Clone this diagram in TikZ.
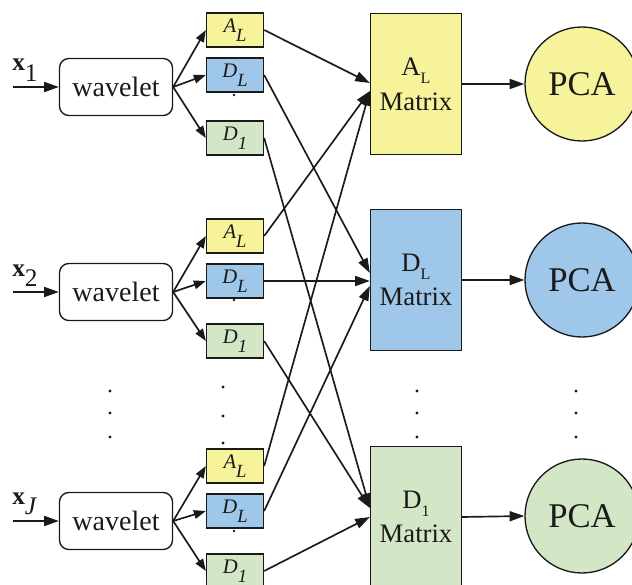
\documentclass[tikz,border=0pt]{standalone}
\usepackage{fontspec}
\setmainfont{Liberation Serif}
\usetikzlibrary{arrows.meta}

\definecolor{cyel}{HTML}{F7F39B}
\definecolor{cblu}{HTML}{9FC7E9}
\definecolor{cgrn}{HTML}{D3E6C6}
\definecolor{ink}{HTML}{1A1A1A}

% lowered subscript: #1 = scale, #2 = drop, #3 = text
\newcommand{\lowsub}[3]{\raisebox{-#2}{\scalebox{#1}{#3}}}

\tikzset{
  wbox/.style={draw=ink, line width=1pt, rounded corners=7pt, fill=white,
    minimum width=84.75pt, minimum height=42.75pt, inner sep=0pt,
    font=\fontsize{21}{21}\selectfont, text=ink},
  sbox/.style={draw=ink, line width=1pt, minimum width=42.75pt,
    minimum height=25.5pt, inner sep=0pt,
    font=\fontsize{15.5}{15.5}\selectfont\itshape, text=ink},
  mbox/.style={draw=ink, line width=1pt, minimum width=68.25pt,
    minimum height=105.75pt, inner sep=0pt, align=center,
    font=\fontsize{20}{26}\selectfont, text=ink},
  pca/.style={circle, draw=ink, line width=1pt, minimum size=85.5pt,
    inner sep=0pt, font=\fontsize{26}{26}\selectfont, text=ink},
  inlabel/.style={anchor=base west, inner sep=0pt, text=ink,
    font=\fontsize{19}{19}\selectfont},
  conn/.style={draw=ink, line width=1.25pt},
  fan/.style={conn, -{Triangle[length=9pt,width=6.5pt]}},
  arr/.style={conn, -{Triangle[length=11pt,width=7.5pt]}},
  dotmark/.style={fill=ink}
}

\begin{document}
\begin{tikzpicture}[x=0.75pt, y=-0.75pt]
  \useasboundingbox (0,0) rectangle (632,585);
  \clip (0,0) rectangle (632,585);

  % ---- signal x_1 ----
  \coordinate (i1) at (13,87);
  \node[inlabel] (l1) at (12,71) {\textbf{x}\lowsub{1}{0.4em}{1}};
  \node[wbox] (w1) at (116,87) {wavelet};
  \node[sbox, fill=cyel] (a1) at (235,30)  {A\lowsub{0.9}{0.42em}{L}};
  \node[sbox, fill=cblu] (d1) at (235,75)  {D\lowsub{0.9}{0.42em}{L}};
  \node[sbox, fill=cgrn] (e1) at (235,138) {D\lowsub{0.9}{0.42em}{1}};

  % ---- signal x_2 ----
  \coordinate (i2) at (13,292);
  \node[inlabel] (l2) at (12,276) {\textbf{x}\lowsub{1}{0.4em}{2}};
  \node[wbox] (w2) at (116,292) {wavelet};
  \node[sbox, fill=cyel] (a2) at (235,236) {A\lowsub{0.9}{0.42em}{L}};
  \node[sbox, fill=cblu] (d2) at (235,281) {D\lowsub{0.9}{0.42em}{L}};
  \node[sbox, fill=cgrn] (e2) at (235,341) {D\lowsub{0.9}{0.42em}{1}};

  % ---- signal x_J ----
  \coordinate (i3) at (13,521);
  \node[inlabel] (l3) at (12,504) {\textbf{x}\lowsub{1}{0.4em}{\itshape J}};
  \node[wbox] (w3) at (116,521) {wavelet};
  \node[sbox, fill=cyel] (a3) at (235,466) {A\lowsub{0.9}{0.42em}{L}};
  \node[sbox, fill=cblu] (d3) at (235,511) {D\lowsub{0.9}{0.42em}{L}};
  \node[sbox, fill=cgrn] (e3) at (235,571) {D\lowsub{0.9}{0.42em}{1}};

  % ---- coefficient matrices and PCA ----
  \node[mbox, fill=cyel] (mA) at (416,84)  {A\lowsub{0.6}{0.3em}{L}\\Matrix};
  \node[mbox, fill=cblu] (mD) at (416,280) {D\lowsub{0.6}{0.3em}{L}\\Matrix};
  \node[mbox, fill=cgrn] (m1) at (416,517) {D\lowsub{0.6}{0.3em}{1}\\Matrix};
  \node[pca, fill=cyel] (pA) at (582,84)  {PCA};
  \node[pca, fill=cblu] (pD) at (582,280) {PCA};
  \node[pca, fill=cgrn] (p1) at (582,516) {PCA};

  % inputs and decompositions
  \foreach \k in {1,2,3} {
    \draw[arr] (i\k) -- (w\k.west);
    \draw[fan] (w\k.east) -- (a\k.west);
    \draw[fan] (w\k.east) -- (d\k.west);
    \draw[fan] (w\k.east) -- (e\k.west);
  }

  % gathering the coefficients into matrices
  \draw[arr] (a1.east) -- ([yshift=0.75pt]mA.west);
  \draw[arr] (a2.east) -- ([yshift=-5.25pt]mA.west);
  \draw[arr] (a3.east) -- ([yshift=-5.25pt]mA.west);
  \draw[arr] (d1.east) -- ([yshift=5.25pt]mD.west);
  \draw[arr] (d2.east) -- (mD.west |- d2.east);
  \draw[arr] (d3.east) -- ([yshift=-4.5pt]mD.west);
  \draw[arr] (e1.east) -- ([yshift=6.75pt]m1.west);
  \draw[arr] (e2.east) -- ([yshift=6.75pt]m1.west);
  \draw[arr] (e3.east) -- (m1.west);

  % matrices to PCA
  \draw[arr] (mA.east) -- (pA.west);
  \draw[arr] (mD.east) -- (pD.west);
  \draw[arr] (m1.east) -- (p1.west);

  % ellipsis dots
  \foreach \y in {391,413,437} {
    \fill[dotmark] (110,\y) circle (1.2pt);
    \fill[dotmark] (417,\y) circle (1.2pt);
    \fill[dotmark] (576,\y) circle (1.2pt);
  }
  \foreach \y in {387,416,443} \fill[dotmark] (223,\y) circle (1.2pt);
  \fill[dotmark] (234,95) circle (1.1pt);
  \fill[dotmark] (234,300) circle (1.1pt);
  \fill[dotmark] (234,531) circle (1.1pt);
\end{tikzpicture}
\end{document}
